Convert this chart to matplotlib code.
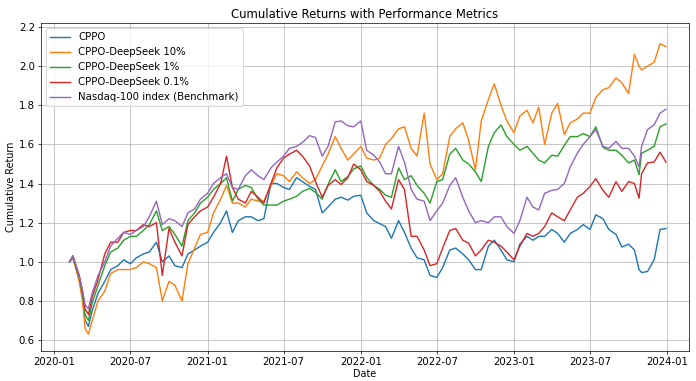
import matplotlib
matplotlib.use("Agg")
import matplotlib.pyplot as plt
import pandas as pd

dates = [
    "2020-02-07", "2020-02-15", "2020-03-01", "2020-03-09", "2020-03-15", "2020-03-23",
    "2020-04-01", "2020-04-15", "2020-05-01", "2020-05-15", "2020-06-01", "2020-06-15",
    "2020-07-01", "2020-07-15", "2020-08-01", "2020-08-15", "2020-09-01", "2020-09-15",
    "2020-10-01", "2020-10-15", "2020-11-01", "2020-11-15", "2020-12-01", "2020-12-15",
    "2021-01-01", "2021-01-15", "2021-02-01", "2021-02-15", "2021-03-01", "2021-03-15",
    "2021-04-01", "2021-04-15", "2021-05-01", "2021-05-15", "2021-06-01", "2021-06-15",
    "2021-07-01", "2021-07-15", "2021-08-01", "2021-08-15", "2021-09-01", "2021-09-15",
    "2021-10-01", "2021-10-15", "2021-11-01", "2021-11-15", "2021-12-01", "2021-12-15",
    "2022-01-01", "2022-01-15", "2022-02-01", "2022-02-15", "2022-03-01", "2022-03-15",
    "2022-04-01", "2022-04-15", "2022-05-01", "2022-05-15", "2022-06-01", "2022-06-15",
    "2022-07-01", "2022-07-15", "2022-08-01", "2022-08-15", "2022-09-01", "2022-09-15",
    "2022-10-01", "2022-10-15", "2022-11-01", "2022-11-15", "2022-12-01", "2022-12-15",
    "2023-01-01", "2023-01-15", "2023-02-01", "2023-02-15", "2023-03-01", "2023-03-15",
    "2023-04-01", "2023-04-15", "2023-05-01", "2023-05-15", "2023-06-01", "2023-06-15",
    "2023-07-01", "2023-07-15", "2023-08-01", "2023-08-15", "2023-09-01", "2023-09-15",
    "2023-10-01", "2023-10-15", "2023-10-26", "2023-11-01", "2023-11-15", "2023-12-01",
    "2023-12-15", "2023-12-29",
]

cppo = [
    1.00, 1.02, 0.91, 0.82, 0.70, 0.67, 0.75, 0.84, 0.90, 0.96, 0.98, 1.01,
    0.99, 1.02, 1.04, 1.05, 1.10, 1.00, 1.03, 0.98, 0.97, 1.04, 1.06, 1.08,
    1.10, 1.15, 1.20, 1.26, 1.15, 1.21, 1.23, 1.23, 1.21, 1.22, 1.40, 1.40,
    1.38, 1.37, 1.43, 1.41, 1.385, 1.37, 1.25, 1.28, 1.32, 1.33, 1.315, 1.335,
    1.34, 1.25, 1.21, 1.195, 1.18, 1.12, 1.21, 1.15, 1.07, 1.02, 1.01, 0.93,
    0.92, 0.97, 1.06, 1.07, 1.04, 1.01, 0.96, 0.96, 1.08, 1.11, 1.06, 1.01,
    1.00, 1.09, 1.13, 1.11, 1.13, 1.13, 1.165, 1.145, 1.10, 1.145, 1.165, 1.19,
    1.165, 1.24, 1.22, 1.165, 1.14, 1.075, 1.09, 1.06, 0.96, 0.945, 0.95, 1.01,
    1.165, 1.17,
]

ds10 = [
    1.00, 1.02, 0.90, 0.80, 0.66, 0.63, 0.70, 0.80, 0.85, 0.94, 0.96, 0.96,
    0.96, 0.97, 1.00, 0.99, 0.97, 0.80, 0.90, 0.88, 0.80, 0.99, 1.07, 1.14,
    1.15, 1.25, 1.32, 1.39, 1.30, 1.30, 1.28, 1.32, 1.31, 1.31, 1.39, 1.45,
    1.44, 1.41, 1.46, 1.43, 1.40, 1.42, 1.49, 1.55, 1.64, 1.58, 1.52, 1.55,
    1.59, 1.53, 1.52, 1.53, 1.60, 1.63, 1.68, 1.69, 1.58, 1.54, 1.76, 1.50,
    1.42, 1.45, 1.64, 1.68, 1.71, 1.62, 1.47, 1.72, 1.83, 1.91, 1.80, 1.72,
    1.66, 1.745, 1.775, 1.71, 1.79, 1.60, 1.76, 1.81, 1.65, 1.71, 1.73, 1.76,
    1.76, 1.84, 1.88, 1.89, 1.94, 1.915, 1.86, 2.06, 2.00, 1.98, 2.00, 2.02,
    2.115, 2.10,
]

ds1 = [
    1.00, 1.02, 0.92, 0.83, 0.73, 0.70, 0.79, 0.88, 0.98, 1.05, 1.07, 1.11,
    1.13, 1.13, 1.16, 1.19, 1.26, 1.16, 1.18, 1.14, 1.08, 1.21, 1.25, 1.30,
    1.33, 1.37, 1.40, 1.43, 1.31, 1.37, 1.39, 1.38, 1.32, 1.29, 1.29, 1.29,
    1.31, 1.32, 1.335, 1.36, 1.375, 1.355, 1.32, 1.395, 1.47, 1.41, 1.435, 1.475,
    1.49, 1.43, 1.39, 1.37, 1.34, 1.33, 1.48, 1.42, 1.44, 1.39, 1.35, 1.30,
    1.41, 1.42, 1.55, 1.58, 1.52, 1.50, 1.46, 1.41, 1.59, 1.66, 1.70, 1.64,
    1.60, 1.57, 1.59, 1.555, 1.52, 1.505, 1.545, 1.54, 1.595, 1.64, 1.64, 1.655,
    1.64, 1.69, 1.585, 1.57, 1.57, 1.545, 1.505, 1.52, 1.445, 1.555, 1.57, 1.59,
    1.69, 1.705,
]

ds01 = [
    1.00, 1.03, 0.93, 0.85, 0.76, 0.73, 0.82, 0.91, 1.04, 1.10, 1.10, 1.15,
    1.16, 1.16, 1.19, 1.18, 1.20, 0.93, 1.17, 1.10, 1.03, 1.19, 1.23, 1.26,
    1.28, 1.33, 1.40, 1.54, 1.38, 1.32, 1.30, 1.36, 1.33, 1.30, 1.40, 1.48,
    1.53, 1.55, 1.57, 1.54, 1.49, 1.41, 1.33, 1.39, 1.42, 1.395, 1.43, 1.50,
    1.47, 1.41, 1.39, 1.36, 1.31, 1.27, 1.42, 1.37, 1.13, 1.13, 1.06, 0.98,
    0.99, 1.07, 1.16, 1.17, 1.11, 1.095, 1.03, 1.06, 1.11, 1.10, 1.08, 1.05,
    1.01, 1.08, 1.145, 1.13, 1.145, 1.18, 1.25, 1.23, 1.21, 1.265, 1.33, 1.35,
    1.385, 1.425, 1.365, 1.33, 1.41, 1.36, 1.41, 1.40, 1.325, 1.45, 1.505, 1.51,
    1.56, 1.51,
]

nasdaq = [
    1.00, 1.03, 0.93, 0.85, 0.78, 0.76, 0.84, 0.93, 1.00, 1.08, 1.12, 1.15,
    1.14, 1.16, 1.18, 1.23, 1.31, 1.19, 1.22, 1.21, 1.18, 1.25, 1.27, 1.32,
    1.35, 1.40, 1.43, 1.45, 1.38, 1.37, 1.44, 1.47, 1.44, 1.42, 1.48, 1.51,
    1.54, 1.58, 1.59, 1.61, 1.645, 1.635, 1.54, 1.59, 1.715, 1.72, 1.695, 1.69,
    1.72, 1.57, 1.545, 1.51, 1.45, 1.45, 1.59, 1.51, 1.37, 1.32, 1.31, 1.21,
    1.26, 1.30, 1.39, 1.43, 1.33, 1.26, 1.20, 1.21, 1.20, 1.23, 1.23, 1.18,
    1.145, 1.21, 1.33, 1.28, 1.265, 1.35, 1.365, 1.37, 1.40, 1.485, 1.555, 1.60,
    1.64, 1.675, 1.59, 1.58, 1.615, 1.58, 1.58, 1.54, 1.485, 1.59, 1.675, 1.70,
    1.76, 1.78,
]

series_names = [
    "CPPO",
    "CPPO-DeepSeek 10%",
    "CPPO-DeepSeek 1%",
    "CPPO-DeepSeek 0.1%",
    "Nasdaq-100 index (Benchmark)",
]
series_values = [cppo, ds10, ds1, ds01, nasdaq]
colors = ["#1f77b4", "#ff7f0e", "#2ca02c", "#d62728", "#9467bd"]

x = pd.to_datetime(dates)

DPI = 63.3
W, H = 696, 381
fig = plt.figure(figsize=(W / DPI, H / DPI), dpi=DPI)
left_px, right_px, top_px, bottom_px = 41, 689, 23, 351
ax = fig.add_axes([left_px / W, 1 - bottom_px / H,
                   (right_px - left_px) / W, (bottom_px - top_px) / H])

for name, vals, c in zip(series_names, series_values, colors):
    ax.plot(x, vals, label=name, color=c, linewidth=1.6)

ax.set_title("Cumulative Returns with Performance Metrics", fontsize=13.2, pad=6)
ax.set_xlabel("Date", fontsize=11, labelpad=2)
ax.set_ylabel("Cumulative Return", fontsize=11, labelpad=3)
ax.tick_params(labelsize=11.5)
# y-limits chosen so gridlines fall where the reference places them
ax.set_ylim(0.6 - (bottom_px - 340) / 195.6, 0.6 + (340 - top_px) / 195.6)
ax.set_xlim(pd.Timestamp("2019-12-01"), pd.Timestamp("2024-02-22"))
ax.grid(True)
ax.legend(loc="upper left", fontsize=11.5)

fig.savefig("out.png", dpi=DPI)
